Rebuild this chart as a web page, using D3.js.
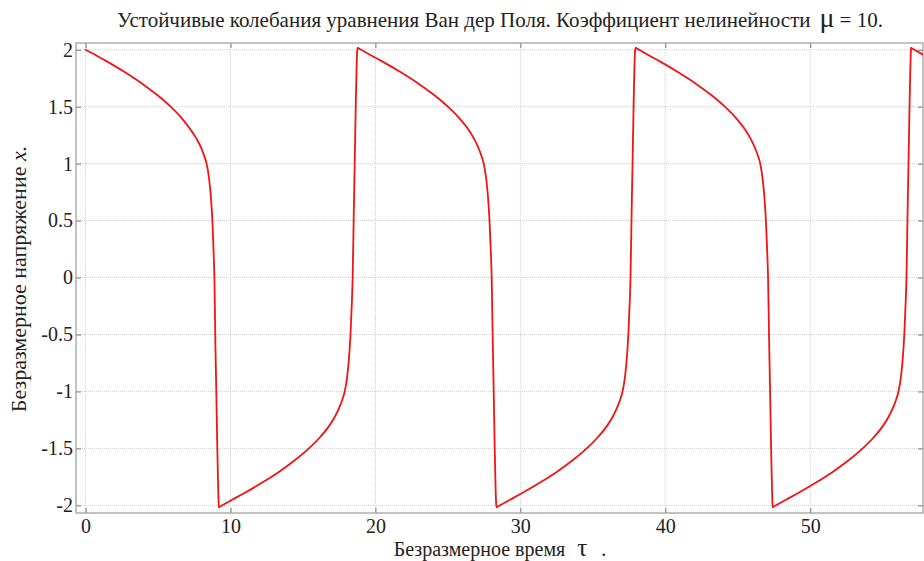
<!DOCTYPE html>
<html>
<head>
<meta charset="utf-8">
<script src="https://cdn.jsdelivr.net/npm/d3@7/dist/d3.min.js"></script>
<style>
  html, body { margin: 0; padding: 0; background: #fff; }
  svg { display: block; }
</style>
</head>
<body>
<svg id="chart" width="924" height="561"></svg>
<script>
// ---- Data ----
// dimensionless time (tau) and dimensionless voltage (x) along the plotted curve
const tauValues = [
  0, 0.74, 1.44, 2.75, 3.93, 4.97, 5.87, 6.63, 7.24, 7.65, 7.97, 8.18, 8.35, 8.52, 8.65, 8.75, 8.84, 8.89, 8.96, 9.02, 9.09, 9.15, 9.19, 9.21,
  10.12, 10.84, 12.19, 13.41, 14.48, 15.41, 16.19, 16.82, 17.21, 17.51, 17.72, 17.88, 18.05, 18.18, 18.28, 18.38, 18.43, 18.51, 18.57, 18.64, 18.7, 18.75, 18.8,
  19.71, 20.43, 21.78, 23.0, 24.07, 25.0, 25.78, 26.41, 26.8, 27.1, 27.31, 27.47, 27.64, 27.77, 27.87, 27.97, 28.02, 28.1, 28.16, 28.23, 28.29, 28.34, 28.38,
  29.29, 30.01, 31.36, 32.58, 33.65, 34.58, 35.36, 35.99, 36.38, 36.68, 36.89, 37.05, 37.22, 37.35, 37.45, 37.55, 37.6, 37.68, 37.74, 37.81, 37.87, 37.92, 37.98,
  38.88, 39.59, 40.92, 42.13, 43.19, 44.11, 44.88, 45.5, 45.88, 46.18, 46.39, 46.55, 46.71, 46.84, 46.94, 47.04, 47.09, 47.17, 47.23, 47.3, 47.36, 47.4, 47.42,
  48.33, 49.05, 50.4, 51.62, 52.69, 53.62, 54.4, 55.03, 55.42, 55.72, 55.93, 56.09, 56.26, 56.39, 56.49, 56.59, 56.64, 56.72, 56.78, 56.85, 56.91, 56.95, 56.97,
  57.88
];
const xValues = [
  2.0, 1.95, 1.9, 1.8, 1.7, 1.6, 1.5, 1.4, 1.3, 1.22, 1.14, 1.07, 1.0, 0.87, 0.7, 0.5, 0.2, 0.0, -0.6, -1.0, -1.5, -1.85, -2.0, -2.015,
  -1.95, -1.9, -1.8, -1.7, -1.6, -1.5, -1.4, -1.3, -1.22, -1.14, -1.07, -1.0, -0.87, -0.7, -0.5, -0.2, 0.0, 0.6, 1.0, 1.5, 1.85, 2.0, 2.015,
  1.95, 1.9, 1.8, 1.7, 1.6, 1.5, 1.4, 1.3, 1.22, 1.14, 1.07, 1.0, 0.87, 0.7, 0.5, 0.2, 0.0, -0.6, -1.0, -1.5, -1.85, -2.0, -2.015,
  -1.95, -1.9, -1.8, -1.7, -1.6, -1.5, -1.4, -1.3, -1.22, -1.14, -1.07, -1.0, -0.87, -0.7, -0.5, -0.2, 0.0, 0.6, 1.0, 1.5, 1.85, 2.0, 2.015,
  1.95, 1.9, 1.8, 1.7, 1.6, 1.5, 1.4, 1.3, 1.22, 1.14, 1.07, 1.0, 0.87, 0.7, 0.5, 0.2, 0.0, -0.6, -1.0, -1.5, -1.85, -2.0, -2.015,
  -1.95, -1.9, -1.8, -1.7, -1.6, -1.5, -1.4, -1.3, -1.22, -1.14, -1.07, -1.0, -0.87, -0.7, -0.5, -0.2, 0.0, 0.6, 1.0, 1.5, 1.85, 2.0, 2.015,
  1.95
];
const xTicks = [0, 10, 20, 30, 40, 50];
const yTicks = [-2, -1.5, -1, -0.5, 0, 0.5, 1, 1.5, 2];
const xDomain = [-0.66, 57.78];
const yDomain = [-2.067, 2.059];
const titleMain = "Устойчивые колебания уравнения Ван дер Поля. Коэффициент нелинейности";
const titleMu = "μ";
const titleTail = "= 10.";
const xLabelMain = "Безразмерное время";
const xLabelSym = "τ";
const xLabelTail = ".";
const yLabelMain = "Безразмерное напряжение ";
const yLabelVar = "x.";

// ---- pick an installed serif face (Times-like) ----
function pickFont(cands) {
  const ctx = document.createElement("canvas").getContext("2d");
  const probe = "Безразмерное Wwm 0.5";
  for (const f of cands) {
    let ok = true;
    for (const base of ["monospace", "sans-serif"]) {
      ctx.font = `40px ${base}`; const w0 = ctx.measureText(probe).width;
      ctx.font = `40px "${f}", ${base}`; const w1 = ctx.measureText(probe).width;
      if (Math.abs(w0 - w1) < 0.5) { ok = false; break; }
    }
    if (ok) return `"${f}", serif`;
  }
  return "serif";
}
const FONT = pickFont(["Liberation Serif", "Times New Roman", "Tinos", "DejaVu Serif", "Noto Serif"]);

// ---- Layout ----
const svg = d3.select("#chart");
const mLeft = 76, mRight = 923, mTop = 43, mBottom = 513;

const x = d3.scaleLinear().domain(xDomain).range([mLeft, mRight]);
const y = d3.scaleLinear().domain(yDomain).range([mBottom, mTop]);

// grid
const grid = svg.append("g");
grid.selectAll("line.vx").data(xTicks).join("line")
  .attr("x1", d => x(d)).attr("x2", d => x(d))
  .attr("y1", mTop).attr("y2", mBottom)
  .attr("stroke", "#d0d0d0").attr("stroke-width", 1)
  .attr("stroke-dasharray", "1,1");
grid.selectAll("line.hy").data(yTicks).join("line")
  .attr("y1", d => y(d)).attr("y2", d => y(d))
  .attr("x1", mLeft).attr("x2", mRight)
  .attr("stroke", "#d0d0d0").attr("stroke-width", 1)
  .attr("stroke-dasharray", "1,1");

// axes with inward ticks
const tickLen = 5;
const axB = d3.axisBottom(x).tickValues(xTicks).tickSize(-tickLen).tickPadding(6).tickFormat(d3.format("d"));
const axT = d3.axisTop(x).tickValues(xTicks).tickSize(-tickLen).tickFormat("");
const axL = d3.axisLeft(y).tickValues(yTicks).tickSize(-tickLen).tickPadding(3).tickFormat(d => String(d));
const axR = d3.axisRight(y).tickValues(yTicks).tickSize(-tickLen).tickFormat("");

function styleAxis(g) {
  g.attr("font-family", FONT).attr("font-size", 20);
  g.select(".domain").remove();
  g.selectAll(".tick line").attr("stroke", "#777").attr("stroke-width", 1);
  g.selectAll(".tick text").attr("fill", "#222");
}
svg.append("g").attr("transform", `translate(0,${mBottom})`).call(axB).call(styleAxis);
svg.append("g").attr("transform", `translate(0,${mTop})`).call(axT).call(styleAxis);
svg.append("g").attr("transform", `translate(${mLeft},0)`).call(axL).call(styleAxis);
svg.append("g").attr("transform", `translate(${mRight},0)`).call(axR).call(styleAxis);

// frame
svg.append("rect")
  .attr("x", mLeft).attr("y", mTop).attr("width", mRight - mLeft).attr("height", mBottom - mTop)
  .attr("fill", "none").attr("stroke", "#9a9a9a").attr("stroke-width", 1.2);

// clip and line
svg.append("clipPath").attr("id", "clip").append("rect")
  .attr("x", mLeft).attr("y", mTop).attr("width", mRight - mLeft).attr("height", mBottom - mTop);

// split the trajectory into monotone pieces at its extrema so the corners stay sharp
const pts = tauValues.map((t, i) => [t, xValues[i]]);
const pieces = [];
let cur = [pts[0]];
for (let i = 1; i < pts.length; i++) {
  cur.push(pts[i]);
  const isExtremum = i < pts.length - 1 &&
    Math.sign(pts[i][1] - pts[i - 1][1]) !== Math.sign(pts[i + 1][1] - pts[i][1]);
  if (isExtremum) { pieces.push(cur); cur = [pts[i]]; }
}
pieces.push(cur);

const line = d3.line().x(d => x(d[0])).y(d => y(d[1])).curve(d3.curveMonotoneX);
svg.append("g").attr("clip-path", "url(#clip)")
  .selectAll("path").data(pieces).join("path")
  .attr("d", line)
  .attr("fill", "none")
  .attr("stroke", "#f01414")
  .attr("stroke-width", 1.8)
  .attr("stroke-linejoin", "round")
  .attr("stroke-linecap", "round");

// title
const title = svg.append("text").attr("x", 500).attr("y", 27)
  .attr("text-anchor", "middle")
  .attr("font-family", FONT).attr("font-size", 21).attr("fill", "#222");
title.append("tspan").text(titleMain);
title.append("tspan").attr("dx", 9).text(titleMu).attr("font-size", 28);
title.append("tspan").attr("dx", 5).text(titleTail);

// x label
const xl = svg.append("text").attr("x", 500).attr("y", 556)
  .attr("text-anchor", "middle")
  .attr("font-family", FONT).attr("font-size", 20).attr("fill", "#222");
xl.append("tspan").text(xLabelMain);
xl.append("tspan").attr("dx", 12).text(xLabelSym).attr("font-size", 25);
xl.append("tspan").attr("dx", 14).text(xLabelTail);

// y label
const yl = svg.append("text")
  .attr("transform", "translate(26,279) rotate(-90)")
  .attr("text-anchor", "middle")
  .attr("font-family", FONT).attr("font-size", 22).attr("fill", "#222");
yl.append("tspan").text(yLabelMain);
yl.append("tspan").text(yLabelVar).attr("font-style", "italic");
</script>
</body>
</html>
